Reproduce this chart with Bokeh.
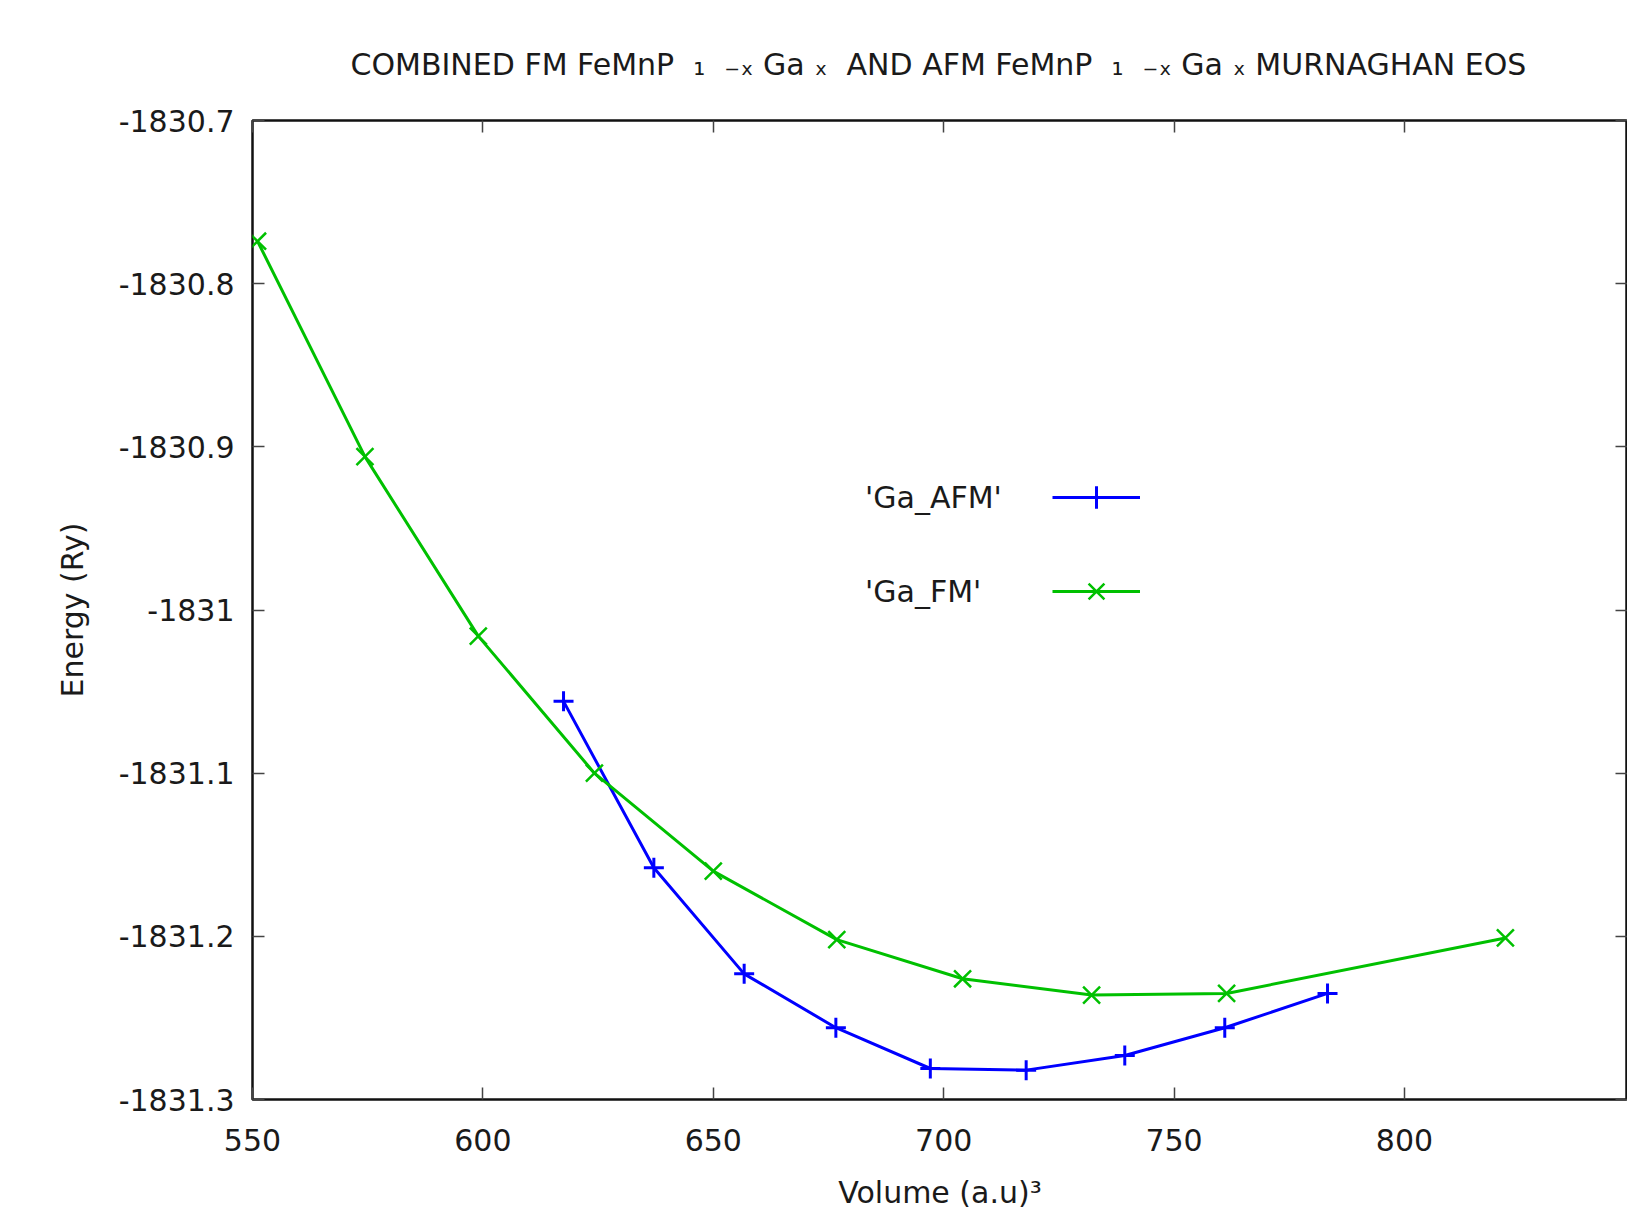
from bokeh.plotting import figure
from bokeh.models import Range1d, LinearAxis, FixedTicker, Legend, LegendItem
from bokeh.embed import file_html
from bokeh.resources import INLINE

# ---- data ----
afm_volume = [617.5, 637.1, 656.7, 676.6, 697.1, 717.9, 739.3, 761.0, 783.3]
afm_energy = [-1831.056, -1831.158, -1831.223, -1831.256, -1831.281,
              -1831.282, -1831.273, -1831.256, -1831.235]

fm_volume = [551.1, 574.4, 599.0, 624.2, 650.0, 676.8, 704.1, 732.1, 761.4, 821.9]
fm_energy = [-1830.774, -1830.906, -1831.016, -1831.100, -1831.160,
             -1831.202, -1831.226, -1831.236, -1831.235, -1831.201]

x_ticks = [550, 600, 650, 700, 750, 800, 850]
x_tick_labels = ["550", "600", "650", "700", "750", "800", "850"]
y_ticks = [-1831.3, -1831.2, -1831.1, -1831.0, -1830.9, -1830.8, -1830.7]
y_tick_labels = ["-1831.3", "-1831.2", "-1831.1", "-1831", "-1830.9", "-1830.8", "-1830.7"]

series_labels = ["'Ga_AFM'", "'Ga_FM'"]
NB = "\u00a0"
title_text = ("COMBINED FM FeMnP" + NB + " ₁" + NB + " ₋ₓ Ga ₓ" + NB + " AND AFM FeMnP"
              + NB + " ₁" + NB + " ₋ₓ Ga ₓ MURNAGHAN EOS")

FONT = "DejaVu Sans"
BLUE = "#0000ff"
GREEN = "#00c000"
TXT = "#1a1a1a"

p = figure(width=1627, height=1212,
           x_range=Range1d(550, 848.4), y_range=Range1d(-1831.3, -1830.7),
           output_backend="svg", toolbar_location=None,
           min_border_left=252, min_border_right=0,
           min_border_top=120, min_border_bottom=112,
           x_axis_label="Volume (a.u)³", y_axis_label="Energy (Ry)",
           title=title_text)

p.title.text_font = FONT
p.title.text_font_size = "30px"
p.title.text_font_style = "normal"
p.title.text_color = TXT
p.title.align = "left"
p.title.offset = 98
p.title.standoff = 78

p.grid.visible = False
p.background_fill_color = "white"
p.border_fill_color = "white"
p.outline_line_color = "#111111"
p.outline_line_width = 2.5

for ax, ticks, labels in ((p.xaxis[0], x_ticks, x_tick_labels),
                          (p.yaxis[0], y_ticks, y_tick_labels)):
    ax.ticker = FixedTicker(ticks=ticks)
    ax.major_label_overrides = {t: l for t, l in zip(ticks, labels)}
    ax.axis_line_color = None
    ax.major_tick_in = 12
    ax.major_tick_out = 0
    ax.major_tick_line_color = "#444444"
    ax.major_tick_line_width = 1.5
    ax.minor_tick_line_color = None
    ax.major_label_text_font = FONT
    ax.major_label_text_font_size = "30px"
    ax.major_label_text_color = TXT
    ax.axis_label_text_font = FONT
    ax.axis_label_text_font_size = "30px"
    ax.axis_label_text_font_style = "normal"
    ax.axis_label_text_color = TXT

p.xaxis[0].major_label_standoff = 29
p.xaxis[0].axis_label_standoff = 21
p.yaxis[0].major_label_standoff = 18
p.yaxis[0].axis_label_standoff = 26

# mirrored ticks on top and right
top = LinearAxis(ticker=FixedTicker(ticks=x_ticks))
right = LinearAxis(ticker=FixedTicker(ticks=y_ticks))
for ax in (top, right):
    ax.axis_line_color = None
    ax.major_tick_in = 12
    ax.major_tick_out = 0
    ax.major_tick_line_color = "#444444"
    ax.major_tick_line_width = 1.5
    ax.minor_tick_line_color = None
    ax.major_label_text_font_size = "1px"
    ax.major_label_text_alpha = 0
    ax.major_label_standoff = 0
p.add_layout(top, "above")
p.add_layout(right, "right")

# series
l_afm = p.line(afm_volume, afm_energy, line_color=BLUE, line_width=3)
m_afm = p.scatter(afm_volume, afm_energy, marker="cross", size=20,
                  line_color=BLUE, line_width=3)
l_fm = p.line(fm_volume, fm_energy, line_color=GREEN, line_width=3)
m_fm = p.scatter(fm_volume, fm_energy, marker="x", size=24,
                 line_color=GREEN, line_width=2.5)

common = dict(orientation="vertical", padding=0, margin=0,
              border_line_color=None, background_fill_alpha=0,
              label_text_font=FONT, label_text_font_size="30px",
              label_text_color=TXT, inactive_fill_alpha=0)

# key text (gnuplot style: text on the left of the sample)
key_text = Legend(items=[LegendItem(label=series_labels[0], renderers=[l_afm]),
                         LegendItem(label=series_labels[1], renderers=[l_fm])],
                  location=(613, 488), glyph_width=0, glyph_height=40,
                  label_height=40, spacing=54, label_standoff=0, **common)
# key samples
key_glyphs = Legend(items=[LegendItem(label=" ", renderers=[l_afm, m_afm]),
                           LegendItem(label=" ", renderers=[l_fm, m_fm])],
                    location=(800, 480), glyph_width=88, glyph_height=56,
                    label_height=56, spacing=38, label_standoff=0, **common)
p.add_layout(key_text)
p.add_layout(key_glyphs)

open("out.html", "w").write(file_html(p, INLINE))
